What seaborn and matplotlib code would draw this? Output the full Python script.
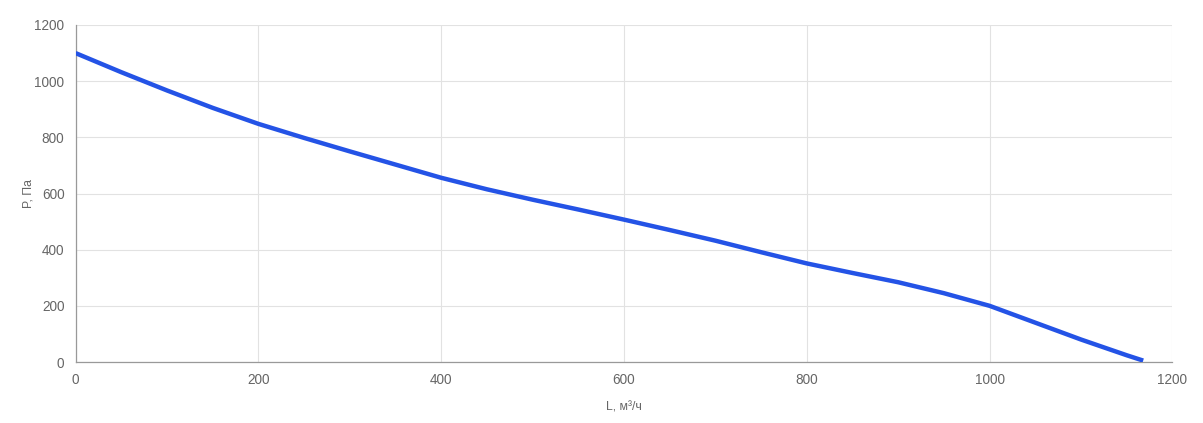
import matplotlib
matplotlib.use("Agg")
import matplotlib.pyplot as plt
import seaborn as sns
import pandas as pd

# Flow vs pressure
flow = [0, 50, 100, 150, 200, 250, 300, 350, 400, 450, 500, 550, 600,
        650, 700, 750, 800, 850, 900, 950, 1000, 1050, 1100, 1150, 1168]
pressure = [1100, 1032, 967, 905, 848, 798, 750, 703, 656, 615, 578, 543, 507,
            470, 432, 391, 351, 317, 284, 245, 200, 140, 80, 24, 5]

x_ticks = [0, 200, 400, 600, 800, 1000, 1200]
y_ticks = [0, 200, 400, 600, 800, 1000, 1200]

sns.set_theme(style="white")
plt.rcParams['font.family'] = ['Liberation Sans', 'DejaVu Sans']

df = pd.DataFrame({'L': flow, 'P': pressure})

fig = plt.figure(figsize=(12.03, 4.23), dpi=100)
ax = fig.add_axes([0.0628, 0.1442, 0.9118, 0.7967])

sns.lineplot(data=df, x='L', y='P', ax=ax, color='#2453e6', linewidth=3.2,
             solid_capstyle='butt', solid_joinstyle='round', zorder=3)

ax.set_xlim(0, 1200)
ax.set_ylim(0, 1200)
ax.set_xticks(x_ticks)
ax.set_yticks(y_ticks)
ax.grid(True, color='#e2e2e2', linewidth=0.8)
ax.set_axisbelow(True)

for side in ['top', 'right']:
    ax.spines[side].set_visible(False)
for side in ['left', 'bottom']:
    ax.spines[side].set_color('#999999')
    ax.spines[side].set_linewidth(0.9)

ax.tick_params(axis='both', colors='#999999', length=6, width=0.8,
               labelsize=9.8, labelcolor='#666666', pad=2)

ax.set_xlabel('L, м³/ч', fontsize=8.8, color='#666666', labelpad=10)
ax.set_ylabel('P, Па', fontsize=8.8, color='#666666', labelpad=0)

fig.savefig('out.png', dpi=100, facecolor='white')
